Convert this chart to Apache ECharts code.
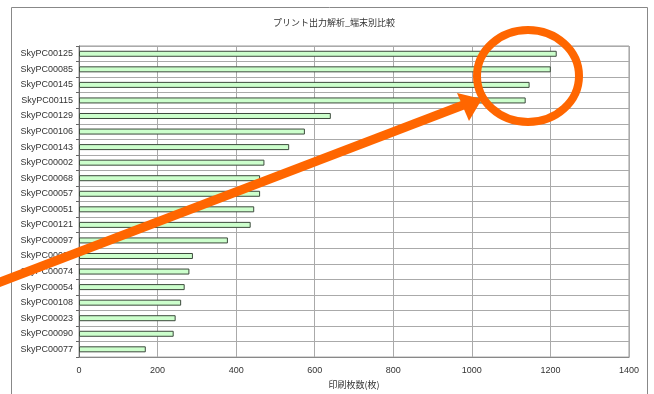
<!DOCTYPE html>
<html>
<head>
<meta charset="utf-8">
<script src="https://cdn.jsdelivr.net/npm/echarts@6/dist/echarts.min.js"></script>
<style>
  html, body { margin: 0; padding: 0; background: #fff; }
  #chart { width: 654px; height: 394px; }
</style>
</head>
<body>
<div id="chart"></div>
<script>
// 端末別の印刷枚数
const terminals = [
  'SkyPC00125', 'SkyPC00085', 'SkyPC00145', 'SkyPC00115', 'SkyPC00129',
  'SkyPC00106', 'SkyPC00143', 'SkyPC00002', 'SkyPC00068', 'SkyPC00057',
  'SkyPC00051', 'SkyPC00121', 'SkyPC00097', 'SkyPC00030', 'SkyPC00074',
  'SkyPC00054', 'SkyPC00108', 'SkyPC00023', 'SkyPC00090', 'SkyPC00077'
];
const printCounts = [
  1216, 1201, 1147, 1137, 641,
  575, 535, 472, 461, 461,
  446, 437, 379, 290, 281,
  269, 260, 246, 241, 170
];
const xTicks = [0, 200, 400, 600, 800, 1000, 1200, 1400];

const chartTitle = 'プリント出力解析_端末別比較';
const xAxisName = '印刷枚数(枚)';

const chart = echarts.init(document.getElementById('chart'), null, { renderer: 'canvas' });
const labelFont = '"Liberation Sans", Arial, sans-serif';

chart.setOption({
  backgroundColor: '#fff',
  animation: false,
  title: {
    text: chartTitle,
    left: 329,
    top: 13,
    textAlign: 'center',
    textStyle: { fontSize: 9, fontWeight: 'normal', color: '#333', fontFamily: '"Noto Sans CJK JP", sans-serif' }
  },
  grid: {
    left: 79, right: 25, top: 46, bottom: 36,
    show: true, borderColor: '#999', borderWidth: 1, backgroundColor: 'transparent'
  },
  xAxis: {
    type: 'value',
    min: xTicks[0],
    max: xTicks[xTicks.length - 1],
    interval: xTicks[1] - xTicks[0],
    name: xAxisName,
    nameLocation: 'middle',
    nameGap: 21,
    nameTextStyle: { fontSize: 9, color: '#333', fontFamily: '"Noto Sans CJK JP", sans-serif' },
    axisLine: { show: true, lineStyle: { color: '#888' } },
    axisTick: { show: false },
    axisLabel: {
      fontSize: 9, color: '#333', margin: 9, fontFamily: labelFont,
      formatter: (v) => String(v)
    },
    splitLine: { show: true, lineStyle: { color: '#aaa', width: 1 } }
  },
  yAxis: {
    type: 'category',
    data: terminals,
    inverse: true,
    axisLine: { show: true, lineStyle: { color: '#666' } },
    axisTick: { show: true, length: 3, lineStyle: { color: '#666' } },
    axisLabel: { fontSize: 9, color: '#333', margin: 6, fontFamily: labelFont },
    splitLine: { show: true, lineStyle: { color: '#aaa', width: 1 } }
  },
  series: [{
    type: 'bar',
    data: printCounts,
    barWidth: 6,
    itemStyle: { color: '#ccffcc', borderColor: '#3c4a3c', borderWidth: 1 }
  }],
  graphic: [
    {
      type: 'rect',
      shape: { x: 11.5, y: 7.5, width: 636, height: 400 },
      style: { fill: 'none', stroke: '#888', lineWidth: 1 },
      silent: true,
      z: -1
    },
    {
      type: 'line',
      shape: { x1: -10, y1: 286, x2: 466, y2: 104 },
      style: { stroke: '#ff6600', lineWidth: 9 },
      z: 100
    },
    {
      type: 'polygon',
      shape: { points: [[482, 99], [457, 93], [469, 121]] },
      style: { fill: '#ff6600' },
      z: 100
    },
    {
      type: 'ellipse',
      shape: { cx: 528, cy: 76, rx: 51, ry: 46 },
      style: { fill: 'none', stroke: '#ff6600', lineWidth: 8 },
      z: 100
    }
  ]
});
</script>
</body>
</html>
